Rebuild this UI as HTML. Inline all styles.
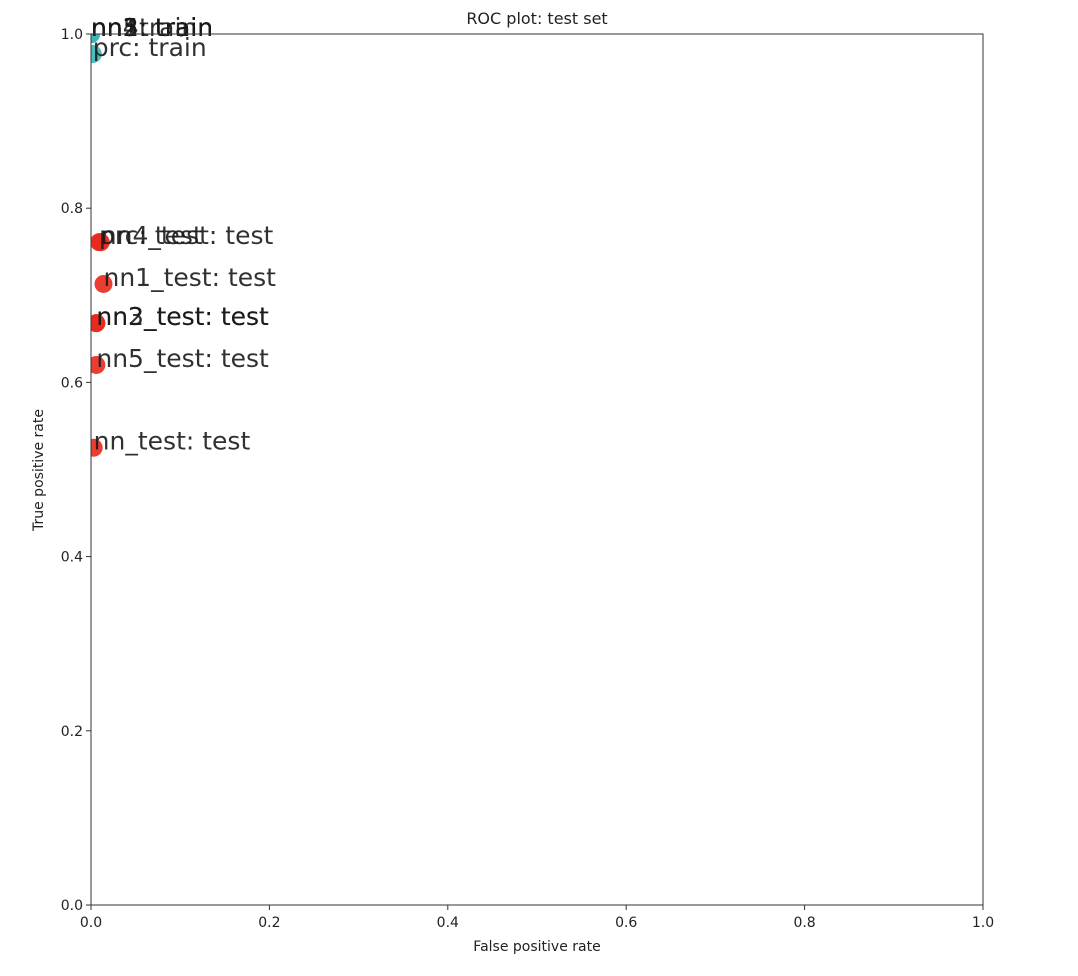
<!DOCTYPE html>
<html><head><meta charset="utf-8"><style>
html,body{margin:0;padding:0;background:#fff;}
svg{display:block;font-family:"DejaVu Sans","Liberation Sans",sans-serif;}
</style></head><body>
<svg id="chart" width="1078" height="976">
<text x="537" y="24" font-size="16" text-anchor="middle" fill="#222">ROC plot: test set</text>
<g id="marks"></g>
<rect x="91" y="34" width="892" height="871" fill="none" stroke="#333" stroke-width="1"/>
<g id="axes"></g>
<text x="537" y="951" font-size="14" text-anchor="middle" fill="#222">False positive rate</text>
<text x="0" y="0" font-size="14" text-anchor="middle" fill="#222" transform="translate(43,470) rotate(-90)">True positive rate</text>
</svg>
<script>
const names = ["nn_test: test","nn1_test: test","nn2_test: test","nn3_test: test","nn4_test: test","nn5_test: test","prc: test","nn: train","nn1: train","nn2: train","nn3: train","nn4: train","nn5: train","prc: train"];
const fprs = [0.003,0.014,0.006,0.006,0.011,0.006,0.009,0,0,0,0,0,0,0.002];
const tprs = [0.525,0.713,0.668,0.668,0.761,0.62,0.761,1,1,1,1,1,1,0.977];
const groups = ["test","test","test","test","test","test","test","train","train","train","train","train","train","train"];
const ticks = [0,0.2,0.4,0.6,0.8,1.0];
const tickLabels = ["0.0","0.2","0.4","0.6","0.8","1.0"];
const X0=91,X1=983,Y0=905,Y1=34;
function sx(v){return X0+v*(X1-X0);}
function sy(v){return Y0-v*(Y0-Y1);}
const NS="http://www.w3.org/2000/svg";
const marks=document.getElementById('marks');
const axes=document.getElementById('axes');
const clip=document.createElementNS(NS,'clipPath');clip.setAttribute('id','pc');
const cr=document.createElementNS(NS,'rect');cr.setAttribute('x',X0);cr.setAttribute('y',Y1);cr.setAttribute('width',X1-X0);cr.setAttribute('height',Y0-Y1);
clip.appendChild(cr);document.getElementById('chart').appendChild(clip);
const dots=document.createElementNS(NS,'g');dots.setAttribute('clip-path','url(#pc)');marks.appendChild(dots);
for(let i=0;i<names.length;i++){
  const c=document.createElementNS(NS,'circle');
  
  
  c.setAttribute('cx',sx(fprs[i]));c.setAttribute('cy',sy(tprs[i]));c.setAttribute('r',9);
  c.setAttribute('fill',groups[i]==='test'?'#e8291c':'#3bb5b8');c.setAttribute('fill-opacity','0.9');
  dots.appendChild(c);
}
for(let i=0;i<names.length;i++){
  const t=document.createElementNS(NS,'text');
  
  
  t.setAttribute('x',sx(fprs[i]));t.setAttribute('y',sy(tprs[i])+2);
  t.setAttribute('font-size','25');t.setAttribute('fill','#1a1a1a');t.setAttribute('fill-opacity','0.9');
  t.textContent=names[i];marks.appendChild(t);
}
for(let i=0;i<ticks.length;i++){
  const x=sx(ticks[i]),y=sy(ticks[i]);
  const lx=document.createElementNS(NS,'line');
  
  
  lx.setAttribute('x1',x);lx.setAttribute('x2',x);lx.setAttribute('y1',Y0);lx.setAttribute('y2',Y0+5);lx.setAttribute('stroke','#333');axes.appendChild(lx);
  const tx=document.createElementNS(NS,'text');
  
  
  tx.setAttribute('x',x);tx.setAttribute('y',Y0+22);tx.setAttribute('font-size','14');tx.setAttribute('text-anchor','middle');tx.setAttribute('fill','#222');
  tx.textContent=tickLabels[i];axes.appendChild(tx);
  const ly=document.createElementNS(NS,'line');
  
  
  ly.setAttribute('x1',X0-5);ly.setAttribute('x2',X0);ly.setAttribute('y1',y);ly.setAttribute('y2',y);ly.setAttribute('stroke','#333');axes.appendChild(ly);
  const ty=document.createElementNS(NS,'text');
  
  
  ty.setAttribute('x',X0-8);ty.setAttribute('y',y+5);ty.setAttribute('font-size','14');ty.setAttribute('text-anchor','end');ty.setAttribute('fill','#222');
  ty.textContent=tickLabels[i];axes.appendChild(ty);
}
</script>
</body></html>
